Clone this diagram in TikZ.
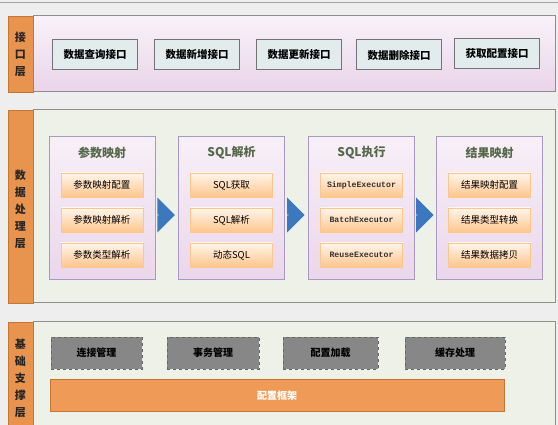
\documentclass[tikz,border=0pt]{standalone}
\usepackage{fontspec}
\newfontfamily\cjk{Noto Sans CJK SC}
\newfontfamily\codefont{Liberation Mono}
\usetikzlibrary{shapes.arrows,calc}

\definecolor{pagebg}{HTML}{EEEEEE}
\definecolor{barorange}{HTML}{E8934E}
\definecolor{barline}{HTML}{C47634}
\definecolor{panelline}{HTML}{8E8E8E}
\definecolor{panelgreen}{HTML}{EDF1E7}
\definecolor{apifill}{HTML}{E3ECEC}
\definecolor{groupline}{HTML}{A898C2}
\definecolor{titlegreen}{HTML}{56684A}
\definecolor{flowblue}{HTML}{3B78BE}
\definecolor{basegray}{HTML}{878787}
\definecolor{baseorange}{HTML}{F09A58}

\tikzset{
  layerbar/.style={fill=barorange, draw=barline, line width=0.8pt},
  layerlabel/.style={font=\cjk\bfseries\fontsize{11}{17}\selectfont, align=center, text=black!85},
  layerpanel/.style={draw=panelline, line width=1pt},
  apibox/.style={draw=black!55, line width=1pt, fill=apifill, minimum width=85pt, minimum height=30pt,
    font=\cjk\bfseries\fontsize{10.5}{12}\selectfont},
  groupbox/.style={draw=groupline, line width=1pt, top color=violet!6, bottom color=violet!16,
    minimum width=106pt, minimum height=143pt},
  grouptitle/.style={font=\cjk\bfseries\fontsize{12}{14}\selectfont, text=titlegreen},
  itembox/.style={draw=orange!45, line width=0.6pt, top color=orange!8, bottom color=orange!45,
    minimum width=82pt, minimum height=24pt, font=\cjk\fontsize{9.5}{11}\selectfont},
  codeitem/.style={itembox, font=\codefont\bfseries\fontsize{8.2}{10}\selectfont, text=black!80},
  flowarrow/.style={single arrow, fill=flowblue, draw=none, minimum height=16pt, minimum width=35pt,
    single arrow head extend=8.5pt, inner sep=0pt},
  basebox/.style={fill=basegray, draw=black!60, dashed, line width=0.8pt, minimum height=32pt,
    font=\cjk\bfseries\fontsize{10}{12}\selectfont},
}

\begin{document}
\begin{tikzpicture}[x=1pt, y=-1pt]
  \useasboundingbox[fill=pagebg] (0,0) rectangle (558,425);
  \draw[black!35, line width=1pt] (0,3) -- (558,3);

  % interface layer
  \draw[layerpanel, top color=violet!5, bottom color=violet!17] (33,16) rectangle (555,92);
  \draw[layerbar] (8,16) rectangle (33,92);
  \node[layerlabel] (apilabel) at (20.5,54) {接\\口\\层};

  \node[apibox] (query) at (95,55) {数据查询接口};
  \node[apibox] (insert) at (197,55) {数据新增接口};
  \node[apibox] (update) at (299,55) {数据更新接口};
  \node[apibox] (delete) at (399,55) {数据删除接口};
  \node[apibox] (config) at (497,54) {获取配置接口};

  % data processing layer
  \draw[layerpanel, fill=panelgreen] (33,110) rectangle (555,303);
  \draw[layerbar] (8,110) rectangle (33,303);
  \node[layerlabel] (datalabel) at (20.5,209) {数\\据\\处\\理\\层};

  \node[groupbox] (param) at (102,208.5) {};
  \node[groupbox] (parse) at (231.5,208.5) {};
  \node[groupbox] (exec) at (361.5,208.5) {};
  \node[groupbox] (result) at (489.5,208.5) {};

  \node[grouptitle] (paramtitle) at (102,153) {参数映射};
  \node[itembox] (param1) at (102,185) {参数映射配置};
  \node[itembox] (param2) at (102,220) {参数映射解析};
  \node[itembox] (param3) at (102,255) {参数类型解析};

  \node[grouptitle] (parsetitle) at (231.5,153) {SQL解析};
  \node[itembox] (parse1) at (231.5,185) {SQL获取};
  \node[itembox] (parse2) at (231.5,220) {SQL解析};
  \node[itembox] (parse3) at (231.5,255) {动态SQL};

  \node[grouptitle] (exectitle) at (361.5,153) {SQL执行};
  \node[codeitem] (exec1) at (361.5,185) {SimpleExecutor};
  \node[codeitem] (exec2) at (361.5,220) {BatchExecutor};
  \node[codeitem] (exec3) at (361.5,255) {ReuseExecutor};

  \node[grouptitle] (resulttitle) at (489.5,153) {结果映射};
  \node[itembox] (result1) at (489.5,185) {结果映射配置};
  \node[itembox] (result2) at (489.5,220) {结果类型转换};
  \node[itembox] (result3) at (489.5,255) {结果数据拷贝};

  \node[flowarrow] (flow1) at ($(param.east)!0.5!(parse.west)+(0,6.5)$) {};
  \node[flowarrow] (flow2) at ($(parse.east)!0.5!(exec.west)+(0,6.5)$) {};
  \node[flowarrow] (flow3) at ($(exec.east)!0.5!(result.west)+(0,6.5)$) {};

  % support layer
  \draw[layerpanel, fill=panelgreen] (33,322) rectangle (555,440);
  \draw[layerbar] (8,322) rectangle (33,440);
  \node[layerlabel] (baselabel) at (20.5,378) {基\\础\\支\\撑\\层};

  \node[basebox, minimum width=91pt] (conn) at (96.5,353) {连接管理};
  \node[basebox, minimum width=92pt] (trans) at (213,353) {事务管理};
  \node[basebox, minimum width=95pt] (load) at (330.5,353) {配置加载};
  \node[basebox, minimum width=100pt] (cache) at (455,353) {缓存处理};

  \node[fill=baseorange, draw=barline, line width=1pt, minimum width=454pt, minimum height=32pt,
    font=\cjk\bfseries\fontsize{10}{12}\selectfont, text=white] (frame) at (277,396) {配置框架};
\end{tikzpicture}
\end{document}
